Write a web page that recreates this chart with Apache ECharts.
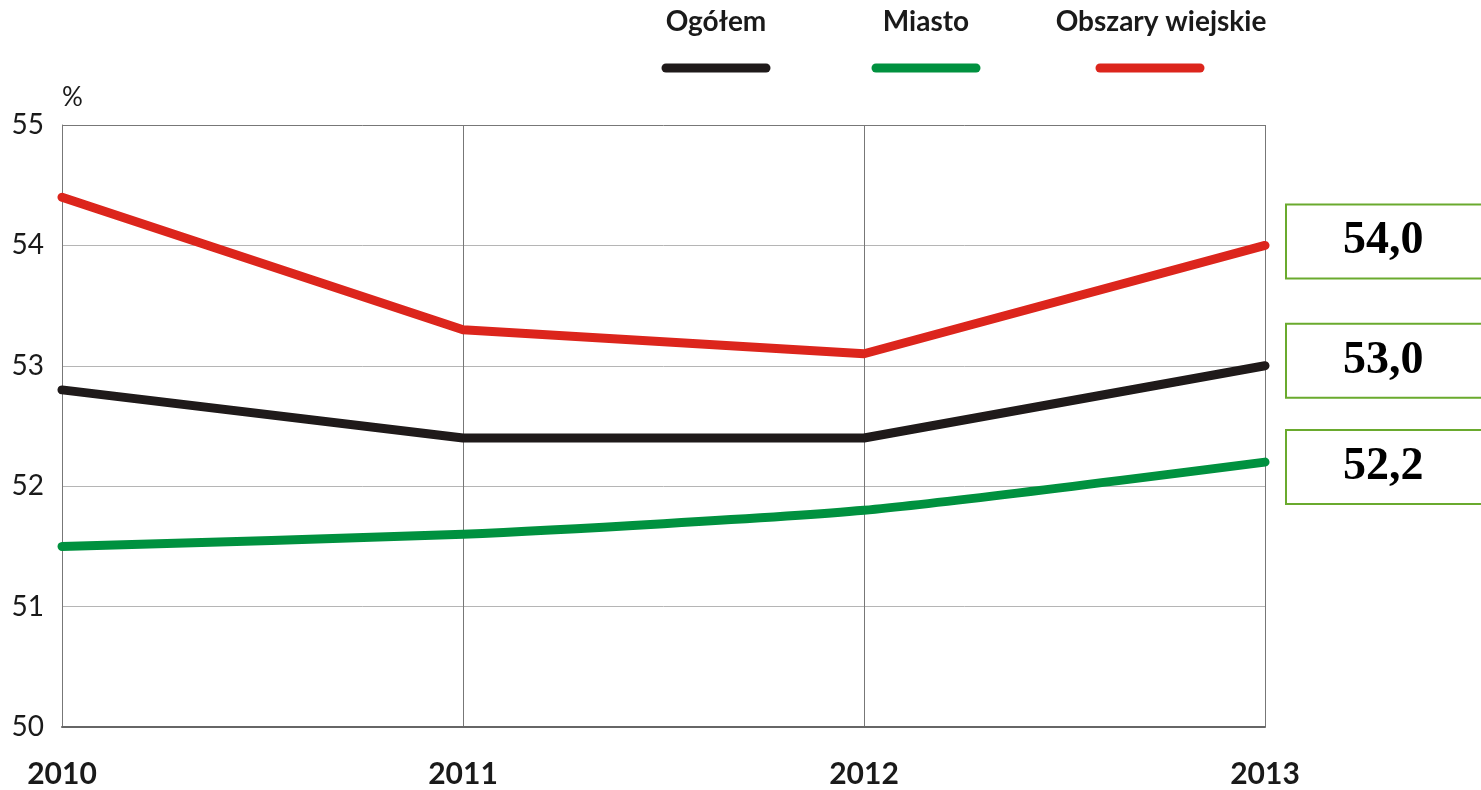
<!DOCTYPE html>
<html>
<head>
<meta charset="utf-8">
<script src="https://cdn.jsdelivr.net/npm/echarts@6/dist/echarts.min.js"></script>
<style>
  html, body { margin: 0; padding: 0; background: #fff; }
  #chart { width: 1481px; height: 790px; }
</style>
</head>
<body>
<div id="chart"></div>
<script>
// Years on the horizontal axis
const years = ['2010', '2011', '2012', '2013'];

// Shares in percent per area type
const ogolem = [52.8, 52.4, 52.4, 53.0];
const miasto = [51.5, 51.6, 51.8, 52.2];
const wies = [54.4, 53.3, 53.1, 54.0];

const seriesNames = ['Ogółem', 'Miasto', 'Obszary wiejskie'];
const seriesColors = ['#1f1a1a', '#00913f', '#dc251c'];

// Vertical axis range
const yMin = 50, yMax = 55, yStep = 1;

const chart = echarts.init(document.getElementById('chart'));

const fmt = v => v.toFixed(1).replace('.', ',');

function lineSeries(name, data, color, smooth, dy) {
  return {
    name: name,
    type: 'line',
    data: data,
    smooth: smooth,
    symbol: 'none',
    lineStyle: { color: color, width: 9, cap: 'round', join: 'round' },
    z: 3,
    endLabel: {
      show: true,
      distance: 22,
      offset: [0, dy],
      formatter: p => fmt(p.value),
      fontFamily: 'Liberation Serif',
      fontWeight: 'bold',
      fontSize: 46,
      color: '#000',
      backgroundColor: '#fff',
      borderColor: '#6aaa2e',
      borderWidth: 2,
      lineHeight: 72,
      padding: [0, 64, 0, 56],
      align: 'left',
      verticalAlign: 'middle'
    }
  };
}

// Legend drawn as text above a short thick stroke
const legendCenters = [716, 926, 1150];
const legendTextX = [716, 926, 1161];
const legendGraphics = [];
seriesNames.forEach((n, i) => {
  legendGraphics.push({
    type: 'text',
    x: legendTextX[i],
    y: 22,
    style: {
      text: n,
      font: 'bold 28px Lato',
      fill: '#1a1a1a',
      textAlign: 'center',
      textVerticalAlign: 'middle'
    }
  });
  legendGraphics.push({
    type: 'line',
    shape: { x1: legendCenters[i] - 50, y1: 68, x2: legendCenters[i] + 50, y2: 68 },
    style: { stroke: seriesColors[i], lineWidth: 9, lineCap: 'round' }
  });
});

chart.setOption({
  animation: false,
  backgroundColor: '#fff',
  grid: { left: 62, right: 216, top: 125, bottom: 63 },
  graphic: legendGraphics,
  xAxis: {
    type: 'category',
    data: years,
    boundaryGap: false,
    axisLine: { show: true, lineStyle: { color: '#666', width: 2 } },
    axisTick: { show: false },
    axisLabel: {
      fontFamily: 'Lato',
      fontWeight: 'bold',
      fontSize: 30,
      color: '#1a1a1a',
      margin: 32
    },
    splitLine: { show: true, lineStyle: { color: '#777', width: 1 } }
  },
  yAxis: {
    type: 'value',
    min: yMin,
    max: yMax,
    interval: yStep,
    name: '%',
    nameLocation: 'end',
    nameGap: 14,
    nameTextStyle: { fontFamily: 'Lato', fontSize: 26, color: '#1a1a1a', align: 'left' },
    axisLine: { show: true, lineStyle: { color: '#777', width: 1 } },
    axisTick: { show: false },
    axisLabel: {
      fontFamily: 'Lato',
      fontSize: 28,
      color: '#1a1a1a',
      margin: 18
    },
    splitLine: {
      show: true,
      lineStyle: { color: ['#777', '#b5b5b5', '#b5b5b5', '#b5b5b5', '#b5b5b5', '#777'], width: 1 }
    }
  },
  series: [
    lineSeries(seriesNames[0], ogolem, seriesColors[0], false, -5),
    lineSeries(seriesNames[1], miasto, seriesColors[1], 0.2, 5),
    lineSeries(seriesNames[2], wies, seriesColors[2], false, -4)
  ]
});
</script>
</body>
</html>
